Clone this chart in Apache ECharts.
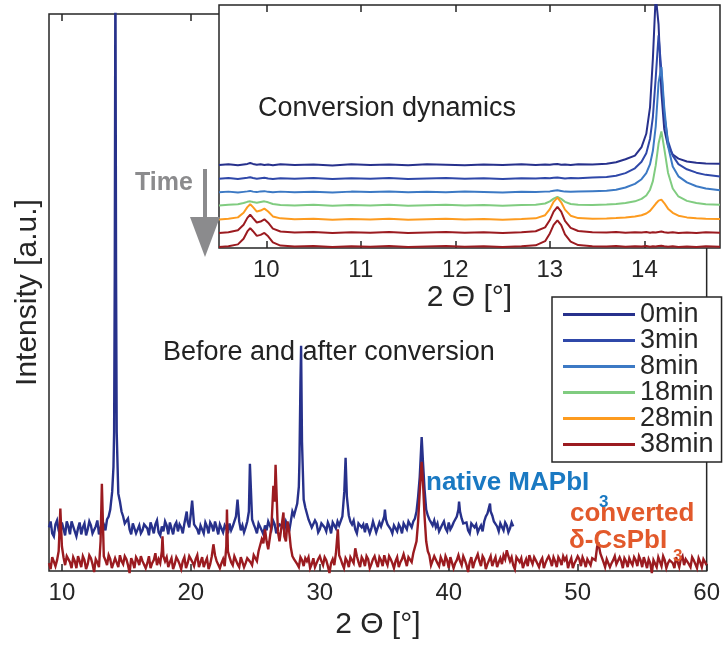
<!DOCTYPE html>
<html>
<head>
<meta charset="utf-8">
<script src="https://cdn.jsdelivr.net/npm/echarts@6.0.0/dist/echarts.min.js"></script>
<style>
  html, body { margin: 0; padding: 0; background: #ffffff; }
  #chart { width: 723px; height: 645px; }
</style>
</head>
<body>
<div id="chart"></div>
<script>
// ---------- Main panel: XRD patterns before and after conversion ----------
// Each scan is read on a 0.25° grid, a second grid offset by half a step
// (null where a reflection is listed instead), plus the reflection maxima.
const SCAN_START = 9;
const SCAN_STEP = 0.25;

// native MAPbI3 (offset), 9° … 45°
const MAPBI3_SCAN = [
  44, 38, 47, 41, 49, 36, 45, 50, 40, 43, 37, 48, 42, 46, 39, 51, 44, 47, 52, 62,
  105, 140, 70, 55, 50, 42, 48, 38, 46, 41, 49, 36, 44, 47, 39, 45, 50, 37, 43, 46,
  40, 44, 48, 50, 58, 47, 42, 46, 38, 45, 49, 40, 44, 47, 39, 43, 48, 45, 55, 50,
  46, 44, 60, 52, 43, 48, 41, 46, 50, 42, 47, 44, 49, 41, 46, 50, 56, 68, 190, 72,
  58, 50, 45, 48, 42, 47, 40, 45, 49, 43, 46, 55, 114, 56, 47, 42, 48, 44, 39, 46,
  43, 48, 41, 45, 55, 47, 42, 46, 40, 44, 48, 42, 47, 50, 60, 95, 110, 62, 52, 46,
  44, 40, 47, 43, 49, 45, 52, 62, 53, 46, 41, 48, 44, 39, 46, 50, 58, 60, 50, 45,
  48, 41, 46, 43, 45
];
const MAPBI3_HALF = [
  50, 35, 51, 36, 47, 50, 37, 48, 35, 49, 44, 36, 50, 38, 45, 37, 51, 41, 55, null,
  null, 78, 60, 48, 53, 37, 50, 42, 38, 47, 43, 49, 38, 51, 36, 40, 46, 49, 37, 49,
  47, 38, null, 44, null, 49, 37, 47, 49, 38, 46, 50, 37, 48, 46, 38, 41, 50, null, 41,
  39, 50, null, 47, 38, 50, 37, 41, 46, 51, 38, 47, 45, 50, 40, 60, 58, 85, null, 64,
  52, 44, 51, 39, 48, 44, 49, 38, 46, 50, 44, null, null, 50, 51, 38, 49, 47, 48, 38,
  50, 39, 49, 44, 52, 49, 38, 48, 47, 38, 49, 50, 44, 53, 75, null, 82, 56, 49, 51,
  48, 38, 50, 40, 42, 49, 55, 60, 48, 49, 38, 50, 47, 43, 40, 55, null, 56, 52, 40,
  47, 49, 39, 49
];
const MAPBI3_PEAKS = [
  [13.9, 80], [14.05, 140], [14.1, 300], [14.15, 620], [14.2, 300], [14.35, 90],
  [19.68, 60], [20.1, 71], [23.62, 72], [24.58, 108],
  [28.42, 110], [28.55, 227], [28.62, 130], [31.9, 80], [32.1, 75],
  [35.05, 62], [37.9, 135], [40.8, 70], [43.2, 68]
];

// converted δ-CsPbI3, 9° … 60°
const CSPBI3_SCAN = [
  8, 14, 5, 20, 25, 6, 12, 3, 10, 15, 4, 11, 7, 13, -1, 9, 30, 15, 6, 12,
  5, 11, 16, 7, 12, -2, 9, 14, 6, 10, 3, 15, 8, 18, 12, 20, 10, 4, 13, 7,
  11, 2, 14, 8, 12, 5, 16, 9, 4, 13, 7, 27, 10, 3, 12, 25, 14, 6, 11, 4,
  12, 8, 15, 6, 14, 20, 32, 42, 22, 45, 70, 40, 28, 35, 50, 24, 12, 7, 14, 5,
  10, 3, 13, 8, 15, 6, 11, -2, 12, 18, 16, 7, 13, 4, 11, 23, 9, 14, 5, 12,
  7, 15, 4, 11, 16, 6, 12, 3, 14, 9, 17, 5, 12, 18, 30, 80, 90, 30, 16, 8,
  13, 5, 10, 15, 3, 12, 8, 16, 6, 11, -1, 14, 9, 17, 5, 12, 7, 15, 10, 4,
  13, 16, 21, 10, 6, 14, 9, 3, 12, 16, 7, 11, 4, 13, 8, 15, 5, 10, 14, 6,
  11, 3, 13, 8, 15, 5, 10, 12, 6, 14, 24, 18, 9, 12, 4, 11, 7, 14, 3, 10,
  13, 6, 11, 15, 4, 9, 12, -2, 10, 14, 5, 11, 8, 13, 3, 9, 12, 6, 10, 4,
  11, 3, 9, 12, 6
];
const CSPBI3_HALF = [
  2, 12, 11, null, 14, 15, 9, 14, 3, 10, 15, 2, 16, 7, 12, 4, null, 11, 16, 3,
  13, 4, 10, 15, 6, 13, 3, 11, 15, 12, 8, 3, 11, 6, 8, 15, 14, 9, 2, 14,
  7, 10, 3, 15, 9, 12, 4, 14, 9, 2, 15, 16, 12, 8, 5, 20, 9, 15, 7, 14,
  4, 13, 9, 16, 10, 26, 28, 30, 24, null, null, 30, null, 30, 40, 15, 14, 4, 11, 13,
  14, 7, 4, 12, 10, 14, 5, 8, 6, null, 12, 3, 10, 14, 8, 15, 4, 11, 15, 3,
  12, 9, 14, 5, 10, 15, 8, 10, 4, 12, 11, 14, 9, 16, 50, null, 55, 20, 6, 15,
  8, 14, 5, 11, 14, 3, 11, 10, 15, 6, 9, 3, 11, 10, 15, 2, 11, 5, 14, 9,
  7, 12, 15, 14, 2, 12, 13, 8, 5, 11, 14, 9, 10, 3, 12, 11, 14, 4, 11, 15,
  14, 9, 3, 11, 12, 14, 4, 10, 13, 11, null, 20, 4, 14, 8, 15, 5, 10, 13, 4,
  9, 14, 5, 11, 14, 3, 8, 11, 4, 12, 15, 3, 11, 8, 14, 4, 15, 12, 7, 14,
  7, 13, 4, 10
];
const CSPBI3_PEAKS = [
  [9.88, 63], [13.1, 88], [17.8, 35], [22.8, 62], [26.4, 86], [26.57, 107],
  [27.18, 59], [31.4, 42], [37.9, 110], [51.6, 29]
];

const MAIN_TICKS = [10, 20, 30, 40, 50, 60];

// ---------- Inset: conversion dynamics around the low-angle reflections ----------
const INSET_X = [
  9.5, 9.6, 9.7, 9.76, 9.8, 9.83, 9.86, 9.9, 9.94, 9.98, 10.02, 10.07, 10.15, 10.3,
  10.5, 10.7, 10.9, 11.1, 11.3, 11.5, 11.7, 11.9, 12.1, 12.3, 12.5, 12.7, 12.85,
  12.95, 13.0, 13.04, 13.08, 13.12, 13.16, 13.22, 13.3, 13.45, 13.6, 13.7, 13.8,
  13.9, 13.97, 14.02, 14.06, 14.09, 14.12, 14.15, 14.18, 14.21, 14.25, 14.3,
  14.36, 14.45, 14.55, 14.65, 14.8
];
const INSET_TICKS = [10, 11, 12, 13, 14];
const TIMES = ['0min', '3min', '8min', '18min', '28min', '38min'];

const SCAN_0MIN = [
  34.2, 34.5, 34.1, 34.4, 34.6, 35.0, 34.6, 34.3, 34.5, 34.2, 34.4, 34.1, 34.5, 34.2,
  34.4, 34.0, 34.5, 34.2, 34.4, 34.1, 34.5, 34.3, 34.1, 34.4, 34.2, 34.5, 34.2,
  34.4, 34.3, 34.5, 34.6, 34.3, 34.4, 34.2, 34.5, 34.4, 34.7, 35.3, 36.5,
  38.0, 41.5, 47, 58, 78, 104, 92, 64, 49, 42, 38.5,
  36.8, 35.6, 35.1, 34.8, 34.7
];
const SCAN_3MIN = [
  28.5, 28.8, 28.4, 28.7, 28.9, 29.1, 28.8, 28.5, 28.7, 28.9, 28.6, 28.4, 28.7, 28.5,
  28.8, 28.4, 28.7, 28.5, 28.8, 28.4, 28.6, 28.8, 28.5, 28.7, 28.4, 28.7, 28.6,
  28.8, 28.7, 28.9, 29.0, 28.8, 28.6, 28.8, 28.7, 29.0, 29.2, 29.7, 30.8,
  32.8, 35.5, 39, 45, 54, 70, 87.5, 73, 55, 44, 38,
  34.5, 32.4, 31.0, 30.1, 29.4
];
const SCAN_8MIN = [
  22.9, 23.2, 22.8, 23.1, 23.3, 23.5, 23.2, 23.0, 23.3, 23.4, 23.1, 22.9, 23.2, 22.9,
  23.1, 22.8, 23.2, 23.0, 23.3, 22.9, 23.1, 22.9, 23.2, 23.0, 22.8, 23.1, 23.0,
  23.2, 23.3, 23.6, 23.8, 23.5, 23.2, 23.1, 23.2, 23.4, 23.6, 24.0, 24.9,
  26.4, 28.3, 30.8, 34.5, 40, 50, 68, 74.5, 58, 42, 33.5,
  29.5, 27.0, 25.4, 24.5, 23.8
];
const SCAN_18MIN = [
  17.5, 17.8, 18.0, 18.5, 19.0, 19.2, 18.9, 18.6, 18.9, 19.2, 18.8, 18.1, 17.7, 17.5,
  17.8, 17.4, 17.7, 17.5, 17.8, 17.4, 17.6, 17.8, 17.5, 17.7, 17.4, 17.7, 17.8,
  18.3, 19.2, 20.3, 21.0, 20.2, 19.0, 18.1, 17.8, 17.7, 17.9, 18.1, 18.5,
  19.2, 20.2, 21.6, 24, 27.5, 34, 43, 48, 41, 31, 24.5,
  21.2, 19.4, 18.5, 18.0, 17.8
];
const SCAN_28MIN = [
  11.7, 12.0, 12.6, 14.5, 16.8, 18.0, 16.8, 15.0, 15.4, 16.2, 15.0, 13.0, 12.2, 11.8,
  12.0, 11.6, 11.9, 11.7, 12.0, 11.6, 11.8, 12.0, 11.7, 11.9, 11.6, 11.9, 12.2,
  13.5, 16.0, 19.0, 20.7, 18.8, 15.8, 13.3, 12.3, 12.0, 12.1, 12.3, 12.6,
  13.0, 13.5, 14.2, 15.3, 16.7, 18.2, 19.5, 19.9, 18.5, 16.2, 14.5,
  13.3, 12.6, 12.2, 12.0, 11.9
];
const SCAN_33MIN = [
  6.2, 6.5, 7.3, 9.6, 12.4, 13.7, 12.3, 10.5, 10.9, 11.8, 10.4, 8.0, 6.8, 6.4,
  6.6, 6.2, 6.5, 6.3, 6.6, 6.2, 6.4, 6.6, 6.3, 6.5, 6.2, 6.5, 6.9,
  8.5, 11.5, 15.0, 16.9, 15.0, 11.2, 8.3, 7.0, 6.5, 6.4, 6.6, 6.3,
  6.5, 6.4, 6.6, 6.3, 6.5, 6.4, 6.6, 6.8, 6.5, 6.3, 6.5,
  6.2, 6.4, 6.2, 6.5, 6.3
];
const SCAN_38MIN = [
  0.4, 0.7, 1.5, 3.8, 6.8, 8.2, 6.9, 5.0, 5.4, 6.2, 4.8, 2.3, 1.0, 0.6,
  0.8, 0.4, 0.7, 0.5, 0.8, 0.4, 0.6, 0.8, 0.5, 0.7, 0.4, 0.7, 1.1,
  2.8, 6.0, 9.5, 11.4, 9.4, 5.6, 2.6, 1.2, 0.7, 0.6, 0.8, 0.5,
  0.7, 0.6, 0.8, 0.5, 0.7, 0.6, 0.8, 0.9, 0.7, 0.5, 0.7,
  0.4, 0.6, 0.4, 0.7, 0.5
];

// ---------- helpers ----------
function scanPoints(scan, half, peaks) {
  const pts = scan.map((v, i) => [SCAN_START + i * SCAN_STEP, v]);
  half.forEach((v, i) => {
    if (v !== null) pts.push([SCAN_START + SCAN_STEP / 2 + i * SCAN_STEP, v]);
  });
  return pts.concat(peaks).sort((a, b) => a[0] - b[0]);
}
function insetPoints(ys) {
  return INSET_X.map((x, i) => [x, ys[i]]);
}

const FONT = "'Liberation Sans', Arial, Helvetica, sans-serif";
const INK = '#262626';
const TRACE_COLORS = ['#27318c', '#2f48a9', '#3c79c4', '#80cc80', '#fd9b1f', '#9b1b20'];

const chart = echarts.init(document.getElementById('chart'), null, { renderer: 'canvas' });

const insetSeries = [
  { name: TIMES[0], ys: SCAN_0MIN, c: TRACE_COLORS[0] },
  { name: TIMES[1], ys: SCAN_3MIN, c: TRACE_COLORS[1] },
  { name: TIMES[2], ys: SCAN_8MIN, c: TRACE_COLORS[2] },
  { name: TIMES[3], ys: SCAN_18MIN, c: TRACE_COLORS[3] },
  { name: TIMES[4], ys: SCAN_28MIN, c: TRACE_COLORS[4] },
  { name: TIMES[5], ys: SCAN_33MIN, c: TRACE_COLORS[5] },
  { name: TIMES[5], ys: SCAN_38MIN, c: TRACE_COLORS[5] }
].map(s => ({
  name: s.name,
  type: 'line',
  xAxisIndex: 2,
  yAxisIndex: 1,
  data: insetPoints(s.ys),
  showSymbol: false,
  symbol: 'none',
  smooth: false,
  z: 7,
  animation: false,
  lineStyle: { color: s.c, width: 2 },
  itemStyle: { color: s.c }
}));

const tickStyle = { color: INK, width: 1.5 };

const option = {
  animation: false,
  backgroundColor: '#ffffff',
  textStyle: { fontFamily: FONT },
  grid: [
    { left: 49, top: 14, width: 660, height: 561, show: true, borderColor: INK, borderWidth: 1.5,
      backgroundColor: 'transparent', z: 1 },
    { left: 219, top: 5, width: 501, height: 243, show: true, borderColor: INK, borderWidth: 1.5,
      backgroundColor: '#ffffff', z: 5 }
  ],
  xAxis: [
    { gridIndex: 0, type: 'value', min: 9, max: 60, position: 'bottom',
      axisLine: { show: false },
      axisTick: { inside: true, length: 7, customValues: MAIN_TICKS, lineStyle: tickStyle },
      axisLabel: { customValues: MAIN_TICKS, fontSize: 24, margin: 10, color: INK, fontFamily: FONT },
      splitLine: { show: false },
      name: '2 Θ [°]', nameLocation: 'middle', nameGap: 35,
      nameTextStyle: { fontSize: 30, color: INK, fontFamily: FONT } },
    { gridIndex: 0, type: 'value', min: 9, max: 60, position: 'top',
      axisLine: { show: false },
      axisTick: { inside: true, length: 7, customValues: MAIN_TICKS, lineStyle: tickStyle },
      axisLabel: { show: false }, splitLine: { show: false } },
    { gridIndex: 1, type: 'value', min: 9.5, max: 14.8, position: 'bottom', z: 6,
      axisLine: { show: false },
      axisTick: { inside: true, length: 7, customValues: INSET_TICKS, lineStyle: tickStyle },
      axisLabel: { customValues: INSET_TICKS, fontSize: 24, margin: 10, color: INK, fontFamily: FONT },
      splitLine: { show: false },
      name: '2 Θ [°]', nameLocation: 'middle', nameGap: 35,
      nameTextStyle: { fontSize: 30, color: INK, fontFamily: FONT } },
    { gridIndex: 1, type: 'value', min: 9.5, max: 14.8, position: 'top', z: 6,
      axisLine: { show: false },
      axisTick: { inside: true, length: 7, customValues: INSET_TICKS, lineStyle: tickStyle },
      axisLabel: { show: false }, splitLine: { show: false } }
  ],
  yAxis: [
    { gridIndex: 0, type: 'value', min: 0, max: 561,
      axisLine: { show: false }, axisTick: { show: false }, axisLabel: { show: false },
      splitLine: { show: false },
      name: 'Intensity [a.u.]', nameLocation: 'middle', nameGap: 6,
      nameTextStyle: { fontSize: 30, color: INK, fontFamily: FONT } },
    { gridIndex: 1, type: 'value', min: 0, max: 100, show: false, splitLine: { show: false } }
  ],
  legend: {
    data: TIMES,
    orient: 'vertical',
    left: 552, top: 297,
    padding: [4, 8, 4, 11],
    icon: 'rect',
    itemWidth: 72, itemHeight: 3, itemGap: -1,
    backgroundColor: '#ffffff',
    borderColor: INK, borderWidth: 1.5, borderRadius: 0,
    selectedMode: false,
    z: 10,
    textStyle: { fontSize: 27, color: INK, fontFamily: FONT }
  },
  series: [
    { name: 'native MAPbI3', type: 'line', xAxisIndex: 0, yAxisIndex: 0,
      data: scanPoints(MAPBI3_SCAN, MAPBI3_HALF, MAPBI3_PEAKS), showSymbol: false, symbol: 'none',
      lineStyle: { color: '#27318b', width: 2.4, join: 'miter', miterLimit: 4 }, z: 2 },
    { name: 'converted δ-CsPbI3', type: 'line', xAxisIndex: 0, yAxisIndex: 0, clip: false,
      data: scanPoints(CSPBI3_SCAN, CSPBI3_HALF, CSPBI3_PEAKS), showSymbol: false, symbol: 'none',
      lineStyle: { color: '#9b1b20', width: 2.4, join: 'miter', miterLimit: 4 }, z: 3 }
  ].concat(insetSeries),
  graphic: [
    { type: 'text', x: 163, y: 353, z: 20,
      style: { text: 'Before and after conversion', font: '27px ' + FONT, fill: '#222222',
               align: 'left', verticalAlign: 'middle' } },
    { type: 'text', x: 258, y: 109, z: 20,
      style: { text: 'Conversion dynamics', font: '27px ' + FONT, fill: '#222222',
               align: 'left', verticalAlign: 'middle' } },
    { type: 'text', x: 426, y: 483, z: 20,
      style: { text: 'native MAPbI', font: 'bold 26px ' + FONT, fill: '#1a79c2',
               align: 'left', verticalAlign: 'middle' } },
    { type: 'text', x: 599, y: 502, z: 20,
      style: { text: '3', font: 'bold 17px ' + FONT, fill: '#1a79c2',
               align: 'left', verticalAlign: 'middle' } },
    { type: 'text', x: 570, y: 514, z: 20,
      style: { text: 'converted', font: 'bold 26px ' + FONT, fill: '#e2592b',
               align: 'left', verticalAlign: 'middle' } },
    { type: 'text', x: 569, y: 541, z: 20,
      style: { text: 'δ-CsPbI', font: 'bold 26px ' + FONT, fill: '#e2592b',
               align: 'left', verticalAlign: 'middle' } },
    { type: 'text', x: 673, y: 556, z: 20,
      style: { text: '3', font: 'bold 17px ' + FONT, fill: '#e2592b',
               align: 'left', verticalAlign: 'middle' } },
    { type: 'text', x: 135, y: 183, z: 20,
      style: { text: 'Time', font: 'bold 25px ' + FONT, fill: '#8b8b8d',
               align: 'left', verticalAlign: 'middle' } },
    { type: 'line', z: 20,
      shape: { x1: 205, y1: 169, x2: 205, y2: 222 },
      style: { stroke: '#8b8b8d', lineWidth: 4 } },
    { type: 'polygon', z: 20,
      shape: { points: [[190, 217], [220, 217], [205, 257]] },
      style: { fill: '#8b8b8d' } }
  ]
};

chart.setOption(option);
</script>
</body>
</html>
